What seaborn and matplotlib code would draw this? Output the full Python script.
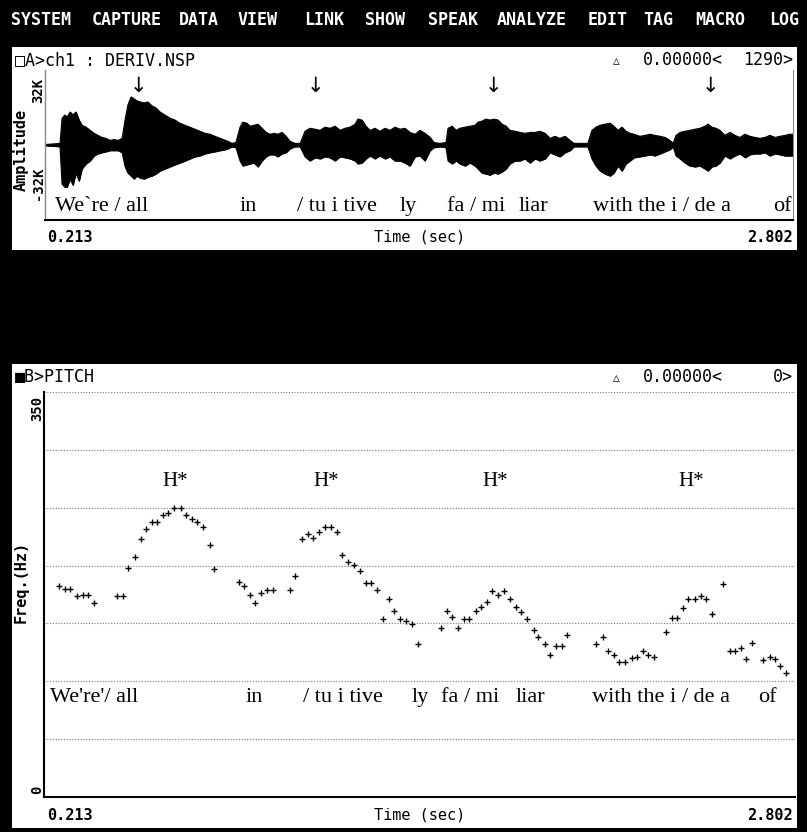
import numpy as np
import pandas as pd
import matplotlib
matplotlib.use("Agg")
import matplotlib.pyplot as plt
from matplotlib.patches import Rectangle
import seaborn as sns

# menu bar
menu_items = ["SYSTEM", "CAPTURE", "DATA", "VIEW", "LINK", "SHOW", "SPEAK",
              "ANALYZE", "EDIT", "TAG", "MACRO", "LOG"]

# waveform envelope (time in s, amplitude in K samples)
wave_time = [0.213, 0.265, 0.272, 0.282, 0.289, 0.300, 0.310, 0.320, 0.331, 0.341,
             0.355, 0.369, 0.383, 0.396, 0.410, 0.424, 0.438, 0.452, 0.466, 0.480,
             0.490, 0.500, 0.511, 0.521, 0.531, 0.542, 0.556, 0.569, 0.583, 0.597,
             0.611, 0.628, 0.646, 0.663, 0.680, 0.698, 0.715, 0.732, 0.749, 0.767,
             0.784, 0.801, 0.819, 0.836, 0.846, 0.860, 0.874, 0.888, 0.898, 0.912,
             0.923, 0.936, 0.950, 0.964, 0.978, 0.992, 1.006, 1.019, 1.033, 1.047,
             1.061, 1.078, 1.096, 1.113, 1.130, 1.148, 1.165, 1.182, 1.199, 1.217,
             1.234, 1.251, 1.269, 1.286, 1.296, 1.310, 1.324, 1.338, 1.355, 1.372,
             1.390, 1.407, 1.424, 1.442, 1.459, 1.476, 1.494, 1.511, 1.528, 1.546,
             1.559, 1.580, 1.601, 1.608, 1.622, 1.636, 1.649, 1.667, 1.684, 1.701,
             1.712, 1.725, 1.739, 1.753, 1.767, 1.781, 1.795, 1.809, 1.822, 1.840,
             1.857, 1.874, 1.892, 1.909, 1.926, 1.944, 1.961, 1.978, 1.995, 2.013,
             2.030, 2.044, 2.092, 2.106, 2.120, 2.134, 2.151, 2.169, 2.182, 2.196,
             2.210, 2.224, 2.238, 2.252, 2.272, 2.290, 2.307, 2.324, 2.342, 2.359,
             2.376, 2.387, 2.397, 2.411, 2.428, 2.445, 2.463, 2.480, 2.497, 2.508,
             2.521, 2.535, 2.549, 2.566, 2.584, 2.601, 2.618, 2.636, 2.653, 2.670,
             2.688, 2.705, 2.722, 2.740, 2.757, 2.774, 2.791, 2.802]
wave_upper = [0.2, 0.7, 11.7, 13.1, 12.2, 14.4, 13.1, 14.4, 10.9, 8.6,
              7.8, 6.4, 5.1, 4.2, 3.3, 2.9, 2.0, 2.4, 2.0, 2.9,
              10.9, 17.5, 21.0, 20.2, 19.3, 18.8, 18.4, 18.8, 17.1, 16.2,
              14.4, 13.1, 11.7, 10.9, 9.5, 8.6, 7.8, 6.9, 6.0, 5.1,
              4.7, 3.8, 2.9, 2.0, 1.6, 0.7, 1.1, 7.8, 10.0, 9.5,
              8.2, 8.6, 9.1, 7.3, 5.5, 4.7, 5.1, 4.7, 5.5, 3.8,
              1.6, 0.7, 0.7, 6.0, 7.3, 6.9, 6.4, 7.8, 7.3, 8.2,
              6.4, 7.3, 7.8, 9.1, 11.3, 10.9, 8.2, 6.4, 7.3, 6.0,
              7.3, 6.4, 7.8, 6.9, 7.3, 5.5, 4.7, 6.4, 5.1, 3.3,
              1.1, 0.7, 1.1, 7.3, 8.2, 6.4, 7.3, 7.8, 8.2, 8.6,
              10.0, 10.4, 11.3, 10.9, 11.3, 10.9, 9.1, 8.2, 6.4, 6.0,
              5.5, 5.1, 5.5, 5.5, 6.0, 5.1, 2.9, 3.8, 2.9, 3.8,
              2.0, 0.7, 0.7, 6.4, 7.8, 8.6, 9.1, 9.5, 8.2, 6.4,
              7.8, 6.0, 5.1, 4.7, 3.8, 4.2, 4.7, 4.2, 3.8, 3.3,
              2.0, 0.7, 4.2, 5.5, 6.0, 6.4, 6.9, 7.3, 8.2, 9.1,
              7.8, 7.3, 6.4, 4.2, 5.5, 4.2, 3.3, 4.7, 3.8, 3.3,
              2.9, 3.3, 4.2, 3.3, 3.8, 4.2, 4.7, 4.7]
wave_lower = [-0.2, -0.7, -17.1, -18.4, -18.4, -14.8, -17.5, -12.2, -15.7, -10.4,
              -8.2, -6.9, -4.7, -3.8, -3.3, -2.9, -2.4, -2.4, -2.4, -3.3,
              -9.3, -12.2, -13.5, -14.8, -13.5, -14.4, -14.8, -14.0, -13.5, -12.6,
              -11.3, -10.4, -9.5, -8.6, -7.8, -6.9, -6.0, -5.1, -4.7, -3.8,
              -3.3, -2.9, -2.4, -2.0, -1.6, -0.7, -1.1, -6.9, -9.1, -8.6,
              -8.2, -7.8, -9.5, -6.9, -5.1, -4.2, -4.2, -5.1, -3.8, -3.3,
              -1.6, -0.7, -0.7, -5.1, -6.9, -5.5, -6.0, -5.1, -5.5, -6.9,
              -5.1, -5.5, -6.0, -6.9, -8.2, -7.8, -6.0, -4.7, -6.0, -4.7,
              -6.0, -5.1, -6.9, -6.9, -7.8, -9.1, -5.1, -4.7, -6.9, -2.4,
              -1.1, -0.7, -1.1, -6.9, -8.2, -6.9, -8.2, -9.1, -7.8, -9.1,
              -10.4, -12.2, -12.6, -13.1, -12.2, -12.6, -11.7, -10.4, -8.2, -6.9,
              -6.9, -6.0, -7.8, -6.0, -6.9, -6.0, -3.3, -4.2, -5.1, -3.3,
              -2.4, -0.7, -0.7, -6.0, -9.1, -11.3, -12.6, -13.5, -12.2, -9.1,
              -11.3, -8.2, -6.9, -5.5, -5.1, -4.7, -4.2, -4.7, -3.8, -2.9,
              -2.0, -0.7, -4.7, -6.0, -7.8, -9.1, -9.5, -9.1, -10.4, -11.3,
              -9.5, -9.1, -7.8, -4.7, -6.0, -4.7, -3.8, -5.5, -4.2, -3.8,
              -3.8, -3.3, -4.7, -3.8, -4.2, -4.7, -4.7, -4.7]

# pitch track (time in s, F0 in Hz)
pitch_time = [0.265, 0.285, 0.304, 0.326, 0.346, 0.366, 0.385, 0.466, 0.485, 0.504,
              0.526, 0.546, 0.564, 0.585, 0.604, 0.624, 0.642, 0.662, 0.684, 0.703,
              0.723, 0.741, 0.762, 0.784, 0.800,
              0.884, 0.902, 0.923, 0.941, 0.962, 0.981, 1.002, 1.062, 1.079, 1.101,
              1.123, 1.140, 1.162, 1.181, 1.202, 1.223, 1.240, 1.262, 1.282, 1.301,
              1.323, 1.341, 1.362, 1.380, 1.401, 1.419, 1.440, 1.462, 1.480, 1.501,
              1.580, 1.601, 1.618, 1.640, 1.661, 1.679, 1.701, 1.718, 1.740, 1.757,
              1.778, 1.800, 1.818, 1.840, 1.857, 1.878, 1.901, 1.917, 1.940, 1.957,
              1.979, 2.000, 2.017,
              2.117, 2.139, 2.157, 2.178, 2.195, 2.217, 2.239, 2.256, 2.278, 2.296,
              2.317, 2.356, 2.377, 2.395, 2.416, 2.433, 2.456, 2.477, 2.495, 2.516,
              2.555, 2.577, 2.594, 2.616, 2.632, 2.654, 2.692, 2.717, 2.732, 2.752,
              2.772]
pitch_hz = [182.5, 179.6, 179.6, 173.8, 175.0, 175.0, 167.4, 173.5, 173.5, 197.6,
            207.7, 223.0, 231.7, 237.8, 237.8, 243.6, 245.4, 249.7, 249.7, 243.6,
            240.4, 237.5, 233.2, 218.2, 197.3,
            185.4, 182.5, 174.7, 167.4, 176.1, 179.3, 179.3, 179.3, 191.2, 222.8,
            227.1, 224.2, 228.6, 233.2, 233.2, 228.6, 209.1, 202.8, 200.2, 195.6,
            185.1, 185.1, 179.0, 153.8, 171.5, 161.0, 153.8, 152.0, 149.1, 132.6,
            146.0, 161.0, 155.2, 146.0, 153.5, 153.5, 161.0, 163.9, 168.3, 177.6,
            174.7, 177.6, 171.5, 163.9, 159.6, 153.5, 144.3, 138.4, 132.3, 122.8,
            130.6, 130.6, 139.9,
            132.3, 138.2, 126.0, 122.8, 116.9, 116.9, 119.9, 121.3, 126.0, 122.8,
            121.3, 142.5, 154.7, 154.7, 163.7, 171.2, 171.2, 174.1, 171.2, 158.2,
            184.5, 126.0, 126.0, 128.9, 119.6, 133.5, 118.2, 121.3, 119.6, 113.5,
            107.4]

words_a = ["We`re / all", "in", "/ tu i tive", "ly", "fa / mi", "liar",
           "with the i / de a", "of"]
words_b = ["We're'/ all", "in", "/ tu i tive", "ly", "fa / mi", "liar",
           "with the i / de a", "of"]
accents = ["H*", "H*", "H*", "H*"]

W, H = 807, 832


def fx(x):
    return x / W


def fy(y):
    return 1 - y / H


def ptext(x, y, s, **kw):
    fig.text(fx(x), fy(y), s, **kw)


sns.set_style("white")
plt.rcParams["font.family"] = ["DejaVu Sans Mono", "DejaVu Sans"]

fig = plt.figure(figsize=(W / 100, H / 100), dpi=100, facecolor="black")

# white panels
fig.add_artist(Rectangle((fx(12), fy(250)), fx(797) - fx(12), fy(47) - fy(250),
                         transform=fig.transFigure, facecolor="white", edgecolor="none", zorder=0))
fig.add_artist(Rectangle((fx(12), fy(828)), fx(797) - fx(12), fy(364) - fy(828),
                         transform=fig.transFigure, facecolor="white", edgecolor="none", zorder=0))

mono = dict(family=["DejaVu Sans Mono", "DejaVu Sans"], color="black")
serif = dict(family=["Liberation Serif", "DejaVu Serif"], color="black")

# menu bar
menu_x = [11, 92, 179, 238, 304, 365, 428, 497, 588, 643, 695, 769]
for name, x in zip(menu_items, menu_x):
    ptext(x, 20, name, color="white", fontsize=12, fontweight="bold",
          family=["DejaVu Sans Mono"], va="center", ha="left")

# ---------- panel A: waveform ----------
axA = fig.add_axes([fx(45), fy(220), fx(793) - fx(45), fy(70) - fy(220)])
axA.set_facecolor("none")
wave = pd.DataFrame({"t": wave_time, "up": wave_upper, "lo": wave_lower})
axA.fill_between(wave["t"], wave["lo"], wave["up"], color="black", lw=0.6)
sns.lineplot(data=wave, x="t", y="up", ax=axA, color="black", lw=0.8)
sns.lineplot(data=wave, x="t", y="lo", ax=axA, color="black", lw=0.8)
axA.set_xlim(0.213, 2.802)
axA.set_ylim(-32.768, 32.768)
axA.set_xticks([])
axA.set_yticks([])
axA.set_xlabel("")
axA.set_ylabel("")
axA.spines["top"].set_visible(False)
axA.spines["left"].set_color("#888888")
axA.spines["left"].set_linewidth(1.0)
axA.spines["right"].set_color("#888888")
axA.spines["right"].set_linewidth(0.8)
axA.spines["bottom"].set_color("black")
axA.spines["bottom"].set_linewidth(1.5)

ptext(15, 60, "\u25a1A>ch1 : DERIV.NSP", fontsize=12, va="center", **mono)
ptext(616, 61, "\u25b3", fontsize=8, va="center", ha="center", **mono)
ptext(723, 60, "0.00000<", fontsize=12, va="center", ha="right", **mono)
ptext(793, 60, "1290>", fontsize=12, va="center", ha="right", **mono)

for x in [138, 315, 493, 710]:
    ptext(x, 86, "\u2193", fontsize=15, va="center", ha="center",
          family=["DejaVu Sans"], color="black")

ptext(21, 150, "Amplitude", fontsize=11, fontweight="bold", rotation=90,
      va="center", ha="center", **mono)
ptext(38, 90, "32K", fontsize=10, fontweight="bold", rotation=90,
      va="center", ha="center", **mono)
ptext(38, 183, "-32K", fontsize=10, fontweight="bold", rotation=90,
      va="center", ha="center", **mono)

words_a_x = [55, 240, 297, 400, 447, 519, 593, 773]
for w, x in zip(words_a, words_a_x):
    ptext(x, 211, w, fontsize=16, va="baseline", ha="left", **serif)

ptext(47, 237, "0.213", fontsize=11, fontweight="bold", va="center", ha="left", **mono)
ptext(420, 237, "Time (sec)", fontsize=11, va="center", ha="center", **mono)
ptext(793, 237, "2.802", fontsize=11, fontweight="bold", va="center", ha="right", **mono)

# ---------- panel B: pitch ----------
axB = fig.add_axes([fx(44), fy(797), fx(795) - fx(44), fy(392) - fy(797)])
axB.set_facecolor("none")
pitch = pd.DataFrame({"t": pitch_time, "hz": pitch_hz})
sns.scatterplot(data=pitch, x="t", y="hz", ax=axB, marker="+", s=22,
                color="black", linewidth=1.0)
axB.set_xlim(0.213, 2.802)
axB.set_ylim(0, 350)
axB.set_yticks(np.arange(0, 351, 50))
axB.set_xticks([])
axB.set_yticklabels([])
axB.tick_params(length=0)
axB.grid(axis="y", linestyle=(0, (1, 1.5)), color="#777777", lw=0.8)
axB.set_xlabel("")
axB.set_ylabel("")
axB.spines["top"].set_visible(False)
axB.spines["right"].set_visible(False)
axB.spines["left"].set_color("black")
axB.spines["left"].set_linewidth(1.5)
axB.spines["bottom"].set_color("black")
axB.spines["bottom"].set_linewidth(1.5)

ptext(15, 377, "\u25a0B>PITCH", fontsize=12, va="center", **mono)
ptext(616, 378, "\u25b3", fontsize=8, va="center", ha="center", **mono)
ptext(723, 377, "0.00000<", fontsize=12, va="center", ha="right", **mono)
ptext(793, 377, "0>", fontsize=12, va="center", ha="right", **mono)

ptext(21, 582, "Freq.(Hz)", fontsize=11, fontweight="bold", rotation=90,
      va="center", ha="center", **mono)
ptext(37, 408, "350", fontsize=10, fontweight="bold", rotation=90,
      va="center", ha="center", **mono)
ptext(37, 790, "0", fontsize=10, fontweight="bold", rotation=90,
      va="center", ha="center", **mono)

for a, x in zip(accents, [175, 326, 495, 691]):
    ptext(x, 481, a, fontsize=15, va="center", ha="center", **serif)

words_b_x = [50, 246, 303, 412, 441, 516, 592, 758]
for w, x in zip(words_b, words_b_x):
    ptext(x, 702, w, fontsize=16, va="baseline", ha="left", **serif)

ptext(47, 815, "0.213", fontsize=11, fontweight="bold", va="center", ha="left", **mono)
ptext(420, 815, "Time (sec)", fontsize=11, va="center", ha="center", **mono)
ptext(793, 815, "2.802", fontsize=11, fontweight="bold", va="center", ha="right", **mono)

fig.savefig("out.png", dpi=100, facecolor="black")
